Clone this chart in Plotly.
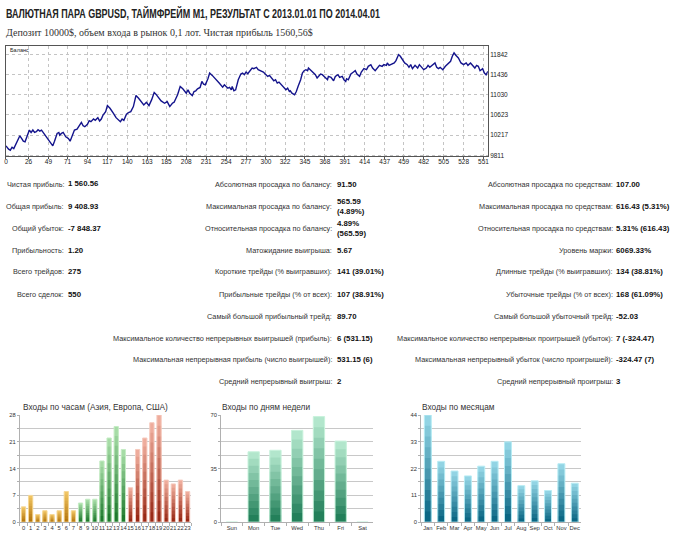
import plotly.graph_objects as go

# ---------------- data ----------------
title_text = "ВАЛЮТНАЯ ПАРА GBPUSD, ТАЙМФРЕЙМ M1, РЕЗУЛЬТАТ С 2013.01.01 ПО 2014.04.01"
subtitle_text = "Депозит 10000$, объем входа в рынок 0,1 лот. Чистая прибыль 1560,56$"

balance_trade = [0, 3, 5, 7, 9, 11, 13, 15, 16, 18, 20, 22, 24, 27, 29, 31, 33, 35, 37, 39, 41, 43, 45, 49, 54, 56,
                 59, 61, 62, 64, 66, 69, 72, 74, 76, 79, 82, 83, 87, 89, 91, 94, 96, 98, 101, 103, 106, 108, 110,
                 112, 115, 117, 120, 124, 127, 132, 134, 136, 139, 142, 144, 147, 150, 153, 156, 159, 162, 165, 168,
                 171, 173, 176, 179, 183, 186, 188, 189, 192, 194, 198, 201, 204, 206, 208, 210, 212, 215, 217, 219,
                 221, 224, 226, 228, 230, 233, 235, 238, 242, 246, 250, 252, 254, 256, 258, 260, 261, 263, 265, 268,
                 271, 273, 275, 277, 279, 281, 283, 284, 286, 289, 291, 294, 297, 300, 302, 304, 307, 309, 311, 313,
                 315, 319, 323, 325, 327, 328, 330, 333, 335, 337, 340, 342, 344, 346, 348, 349, 351, 353, 357, 359,
                 361, 363, 365, 368, 371, 372, 375, 378, 380, 383, 385, 388, 390, 392, 393, 395, 398, 401, 403, 405,
                 408, 410, 413, 416, 418, 421, 423, 426, 428, 431, 434, 436, 439, 440, 442, 445, 448, 450, 453, 455,
                 458, 460, 463, 465, 467, 469, 472, 475, 477, 480, 482, 485, 487, 489, 492, 495, 497, 499, 501, 504,
                 507, 510, 513, 515, 517, 519, 522, 525, 528, 531, 533, 536, 538, 541, 543, 545, 547, 550, 552, 554,
                 556]
balance_value = [10000, 9933, 9913, 9973, 9946, 10014, 10082, 10183, 10204, 10150, 10095, 10082, 10183, 10319, 10271,
                 10319, 10271, 10285, 10326, 10298, 10319, 10271, 10231, 10116, 10001, 10095, 10251, 10271, 10217,
                 10251, 10271, 10183, 10150, 10095, 10183, 10319, 10339, 10366, 10474, 10407, 10386, 10434, 10508,
                 10488, 10542, 10515, 10569, 10501, 10542, 10623, 10691, 10813, 10759, 10657, 10569, 10488, 10542,
                 10515, 10637, 10678, 10691, 10793, 11016, 10962, 10894, 10827, 10881, 10813, 10928, 11077, 11043,
                 10975, 10908, 10860, 10894, 10827, 10793, 10860, 10881, 11030, 11199, 11151, 11097, 11063, 11131,
                 11063, 11016, 11097, 11111, 11151, 11179, 11300, 11246, 11233, 11355, 11470, 11422, 11334, 11267,
                 11185, 11233, 11199, 11165, 11179, 11131, 11199, 11111, 11131, 11334, 11449, 11470, 11436, 11490,
                 11456, 11504, 11537, 11571, 11558, 11585, 11537, 11517, 11490, 11436, 11402, 11422, 11368, 11314,
                 11334, 11267, 11287, 11199, 11131, 11165, 11097, 11111, 11063, 11030, 11097, 11199, 11334, 11470,
                 11517, 11537, 11517, 11571, 11537, 11504, 11436, 11368, 11422, 11449, 11436, 11382, 11334, 11402,
                 11382, 11314, 11402, 11436, 11382, 11402, 11334, 11300, 11355, 11334, 11449, 11490, 11517, 11449,
                 11402, 11490, 11558, 11537, 11605, 11639, 11571, 11517, 11558, 11625, 11605, 11639, 11625, 11673,
                 11625, 11652, 11673, 11720, 11842, 11808, 11740, 11673, 11639, 11585, 11639, 11558, 11625, 11571,
                 11639, 11585, 11537, 11571, 11625, 11585, 11639, 11673, 11585, 11558, 11585, 11537, 11605, 11652,
                 11707, 11808, 11876, 11828, 11774, 11673, 11639, 11673, 11625, 11673, 11639, 11571, 11625, 11605,
                 11517, 11558, 11470, 11436, 11504]
balance_xticks = [0, 26, 49, 71, 94, 117, 140, 163, 185, 208, 231, 254, 277, 300, 322, 345, 368, 391, 414, 437, 459,
                  482, 505, 528, 551]
balance_yticks = [9811, 10217, 10623, 11030, 11436, 11842]
balance_ytext = ["9811", "10217", "10623", "11030", "11436", "11842"]

col1_labels = ["Чистая прибыль:", "Общая прибыль:", "Общий убыток:", "Прибыльность:", "Всего трейдов:",
               "Всего сделок:"]
col1_values = ["1 560.56", "9 408.93", "-7 848.37", "1.20", "275", "550"]
col2_labels = ["Абсолютная просадка по балансу:", "Максимальная просадка по балансу:",
               "Относительная просадка по балансу:", "Матожидание выигрыша:", "Короткие трейды (% выигравших):",
               "Прибыльные трейды (% от всех):", "Самый большой прибыльный трейд:",
               "Максимальное количество непрерывных выигрышей (прибыль):",
               "Максимальная непрерывная прибыль (число выигрышей):", "Средний непрерывный выигрыш:"]
col2_values = ["91.50", "565.59<br>(4.89%)", "4.89%<br>(565.59)", "5.67", "141 (39.01%)", "107 (38.91%)", "89.70",
               "6 (531.15)", "531.15 (6)", "2"]
col3_labels = ["Абсолютная просадка по средствам:", "Максимальная просадка по средствам:",
               "Относительная просадка по средствам:", "Уровень маржи:", "Длинные трейды (% выигравших):",
               "Убыточные трейды (% от всех):", "Самый большой убыточный трейд:",
               "Максимальное количество непрерывных проигрышей (убыток):",
               "Максимальная непрерывный убыток (число проигрышей):", "Средний непрерывный проигрыш:"]
col3_values = ["107.00", "616.43 (5.31%)", "5.31% (616.43)", "6069.33%", "134 (38.81%)", "168 (61.09%)", "-52.03",
               "7 (-324.47)", "-324.47 (7)", "3"]

hours_title = "Входы по часам (Азия, Европа, США)"
hours = [str(h) for h in range(24)]
hours_entries = [4, 7, 2, 3, 2, 3, 8, 3, 5, 6, 6, 16, 22, 25, 19, 9, 19, 22, 26, 28, 11, 10, 11, 8]
hours_session = ["asia"] * 8 + ["europe"] * 7 + ["usa"] * 9
hours_yticks = [0, 3.5, 7, 10.5, 14, 17.5, 21, 24.5, 28]
hours_yticktext = ["0", "", "7", "", "14", "", "21", "", "28"]

days_title = "Входы по дням недели"
days = ["Sun", "Mon", "Tue", "Wed", "Thu", "Fri", "Sat"]
days_entries = [0, 46, 47, 60, 69, 53, 0]
days_yticks = [0, 8.75, 17.5, 26.25, 35, 43.75, 52.5, 61.25, 70]
days_yticktext = ["0", "", "", "", "35", "", "", "", "70"]

months_title = "Входы по месяцам"
months = ["Jan", "Feb", "Mar", "Apr", "May", "Jun", "Jul", "Aug", "Sep", "Oct", "Nov", "Dec"]
months_entries = [44, 25, 21, 19, 23, 25, 33, 15, 17, 13, 24, 16]
months_yticks = [0, 5.5, 11, 16.5, 22, 27.5, 33, 38.5, 44]
months_yticktext = ["0", "", "11", "", "22", "", "33", "", "44"]

# ---------------- layout helpers ----------------
W, H = 680, 539


def px_x(x):
    return x / W


def px_y(y):
    return 1 - y / H


def hex2rgb(h):
    h = h.lstrip("#")
    return tuple(int(h[i:i + 2], 16) for i in (0, 2, 4))


def mix(c1, c2, f):
    a, b = hex2rgb(c1), hex2rgb(c2)
    return "rgb(%d,%d,%d)" % tuple(round(a[i] + (b[i] - a[i]) * f) for i in range(3))


session_colors = {"asia": ("#f0c462", "#b4760e", "#f6d896"),
                  "europe": ("#a6dca6", "#1f7a2e", "#c4ecc4"),
                  "usa": ("#eeac9c", "#992a16", "#f6cabe")}
days_colors = ("#b2e6cc", "#23805a", "#c8f2dc")
months_colors = ("#92d4e4", "#0b6784", "#b8ecf4")

fig = go.Figure()

# balance line
fig.add_trace(go.Scatter(x=balance_trade, y=balance_value, mode="lines",
                         line=dict(color="#14148c", width=1.4), xaxis="x", yaxis="y",
                         hoverinfo="skip", showlegend=False))

N = 10


def add_gradient_bars(cats, vals, tops, bottoms, edges, xa, ya, width):
    for k in range(N):
        f = k / (N - 1)
        heights = [v * (1 - k / N) for v in vals]
        cols = [mix(t, b, f) for t, b in zip(tops, bottoms)]
        fig.add_trace(go.Bar(x=cats, y=heights, marker=dict(color=cols, line=dict(width=0)),
                             width=width, xaxis=xa, yaxis=ya, showlegend=False, hoverinfo="skip"))
    fig.add_trace(go.Bar(x=cats, y=vals, marker=dict(color="rgba(0,0,0,0)", line=dict(color=edges, width=1)),
                         width=width, xaxis=xa, yaxis=ya, showlegend=False, hoverinfo="skip"))


add_gradient_bars(hours, hours_entries,
                  [session_colors[s][0] for s in hours_session],
                  [session_colors[s][1] for s in hours_session],
                  [session_colors[s][2] for s in hours_session], "x2", "y2", 0.6)
add_gradient_bars(days, days_entries, [days_colors[0]] * 7, [days_colors[1]] * 7, [days_colors[2]] * 7,
                  "x3", "y3", 0.52)
add_gradient_bars(months, months_entries, [months_colors[0]] * 12, [months_colors[1]] * 12,
                  [months_colors[2]] * 12, "x4", "y4", 0.52)

small_font = dict(family="Liberation Sans, Arial, sans-serif", size=5.8, color="#333")

bar_x_common = dict(showgrid=False, showline=True, linecolor="#b0b0b0", linewidth=1, ticks="outside",
                    ticklen=3, tickcolor="#b0b0b0", tickson="boundaries", tickfont=small_font,
                    tickangle=0, type="category", fixedrange=True)
bar_y_common = dict(showgrid=True, gridcolor="#c8c8c8", gridwidth=1, showline=True, linecolor="#b0b0b0",
                    ticks="outside", ticklen=2, tickcolor="#b0b0b0", tickfont=small_font, zeroline=False,
                    tickmode="array", fixedrange=True)

bottom_dom = [px_y(525), px_y(416.7)]
axis_font = dict(family="Liberation Sans, Arial, sans-serif", size=6.5, color="#222")

fig.update_layout(
    width=W, height=H, autosize=False,
    margin=dict(l=0, r=0, t=0, b=0),
    paper_bgcolor="white", plot_bgcolor="white",
    barmode="overlay", bargap=0.4,
    showlegend=False,
    xaxis=dict(domain=[px_x(4), px_x(488)], range=[0, 556], tickmode="array", tickvals=balance_xticks,
               showgrid=True, gridcolor="#c4c4c4", griddash="dot", gridwidth=1,
               showline=True, mirror=True, linecolor="#555", linewidth=1,
               ticks="outside", ticklen=2, tickcolor="#555", zeroline=False,
               ticklabelstandoff=-3, tickfont=axis_font, anchor="y", fixedrange=True),
    yaxis=dict(domain=[px_y(155), px_y(43)], range=[9790, 12025], tickmode="array", tickvals=balance_yticks,
               ticktext=balance_ytext,
               side="right", showgrid=True, gridcolor="#c4c4c4", griddash="dot", gridwidth=1,
               showline=True, mirror=True, linecolor="#555", linewidth=1, zeroline=False,
               ticks="", tickfont=axis_font, anchor="x", fixedrange=True),
    xaxis2=dict(domain=[px_x(18), px_x(190)], anchor="y2", **bar_x_common),
    yaxis2=dict(domain=bottom_dom, range=[0, 28], tickvals=hours_yticks, ticktext=hours_yticktext,
                anchor="x2", **bar_y_common),
    xaxis3=dict(domain=[px_x(220), px_x(373)], anchor="y3", **bar_x_common),
    yaxis3=dict(domain=bottom_dom, range=[0, 70], tickvals=days_yticks, ticktext=days_yticktext,
                anchor="x3", **bar_y_common),
    xaxis4=dict(domain=[px_x(421), px_x(582)], anchor="y4", **bar_x_common),
    yaxis4=dict(domain=bottom_dom, range=[0, 44], tickvals=months_yticks, ticktext=months_yticktext,
                anchor="x4", **bar_y_common),
)

ann = []
ann.append(dict(text=title_text, x=px_x(2), y=px_y(10.5), xref="paper", yref="paper",
                xanchor="left", yanchor="middle", align="left", showarrow=False,
                font=dict(family="Liberation Sans, Arial, sans-serif", size=12.5, color="#222",
                          weight="bold")))
ann.append(dict(text=subtitle_text, x=px_x(2), y=px_y(30), xref="paper", yref="paper",
                xanchor="left", yanchor="middle", showarrow=False,
                font=dict(family="Liberation Serif, Times New Roman, serif", size=10, color="#333")))
ann.append(dict(text="Баланс", x=px_x(6), y=px_y(47.5), xref="paper", yref="paper",
                xanchor="left", yanchor="middle", showarrow=False,
                font=dict(family="Liberation Sans, Arial, sans-serif", size=5.5, color="#222")))

label_font = dict(family="Liberation Sans, Tahoma, sans-serif", size=7.3, color="#333")
value_font = dict(family="Liberation Sans, Tahoma, sans-serif", size=7.8, color="#111")
row_y = [184, 206, 228, 250, 272, 294.5, 317, 339, 361, 383]

columns = [(col1_labels, col1_values, 64, 64), (col2_labels, col2_values, 333, 334),
           (col3_labels, col3_values, 616, 615)]
for labels, values, lx, vx in columns:
    for i, (lab, val) in enumerate(zip(labels, values)):
        yy = row_y[i]
        ann.append(dict(text=lab, x=px_x(lx), y=px_y(yy), xref="paper", yref="paper",
                        xanchor="right", yanchor="middle", showarrow=False, font=label_font))
        ann.append(dict(text="<b>" + val + "</b>", x=px_x(vx), y=px_y(yy - (1.5 if i == 0 and lx == 64 else 0)),
                        xref="paper", yref="paper", xanchor="left", yanchor="middle", align="left",
                        showarrow=False, font=value_font))

chart_title_font = dict(family="Liberation Sans, Arial, sans-serif", size=8.3, color="#333")
for t, x0 in [(hours_title, 19), (days_title, 219), (months_title, 420)]:
    ann.append(dict(text=t, x=px_x(x0), y=px_y(409), xref="paper", yref="paper", xanchor="left",
                    yanchor="middle", showarrow=False, font=chart_title_font))

fig.update_layout(annotations=ann)

post_js = (
    "document.body.style.margin='0';document.body.style.padding='0';"
    "document.body.style.overflow='hidden';"
    "var t=document.querySelector('g.annotation[data-index=\"0\"] text.annotation-text');"
    "if(t){t.setAttribute('textLength','374');t.setAttribute('lengthAdjust','spacingAndGlyphs');}"
)
fig.write_html("out.html", post_script=post_js, config={"displayModeBar": False})
